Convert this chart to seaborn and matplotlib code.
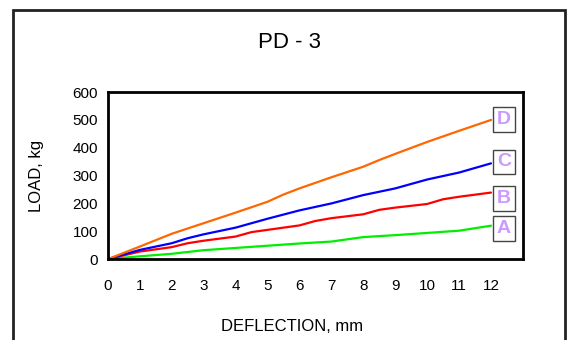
import pandas as pd
import seaborn as sns
import matplotlib.pyplot as plt
from matplotlib.patches import Rectangle

# deflection (mm) / load (kg)
defl_a = [0, 1, 2, 3, 4, 5, 6, 7, 8, 9, 10, 11, 12]
load_a = [0, 10, 19, 32, 40, 48, 56, 63, 79, 86, 94, 102, 120]

defl_b = [0, 1, 2, 2.5, 3, 4, 4.5, 5, 6, 6.5, 7, 8, 8.5, 9, 10, 10.5, 11, 12]
load_b = [0, 27, 43, 57, 66, 81, 97, 105, 121, 137, 147, 161, 177, 185, 198, 215, 224, 239]

defl_c = [0, 1, 2, 2.5, 3, 4, 5, 6, 7, 8, 9, 10, 11, 12]
load_c = [0, 33, 57, 75, 89, 113, 145, 175, 200, 230, 254, 286, 311, 344]

defl_d = [0, 1, 2, 3, 4, 5, 5.5, 6, 7, 8, 8.5, 9, 10, 11, 12]
load_d = [0, 45, 91, 129, 167, 206, 232, 254, 294, 332, 356, 378, 421, 461, 500]

series = ["A", "B", "C", "D"]
colors = {"A": "#00ee00", "B": "#ff0000", "C": "#0000ff", "D": "#ff6600"}

frames = []
for name, x, y in zip(series, [defl_a, defl_b, defl_c, defl_d],
                      [load_a, load_b, load_c, load_d]):
    frames.append(pd.DataFrame({"defl": x, "load": y, "curve": name}))
df = pd.concat(frames)

sns.set_style("white")
plt.rcParams["font.family"] = ["Liberation Sans", "DejaVu Sans"]
plt.rcParams["text.color"] = "black"
plt.rcParams["axes.labelcolor"] = "black"
plt.rcParams["xtick.color"] = "black"
plt.rcParams["ytick.color"] = "black"

fig = plt.figure(figsize=(5.74, 3.4), dpi=100)
ax = fig.add_axes([0.188, 0.238, 0.723, 0.491])

sns.lineplot(data=df, x="defl", y="load", hue="curve", palette=colors,
             linewidth=1.6, legend=False, ax=ax, sort=False)

ax.set_xlim(0, 13)
ax.set_ylim(0, 600)
ax.set_xticks(range(0, 14))
ax.set_xticklabels([str(i) for i in range(13)] + [""])
ax.set_yticks(range(0, 601, 100))
ax.tick_params(direction="inout", length=8, width=2, labelsize=11)
ax.tick_params(axis="x", pad=10)
ax.tick_params(axis="y", pad=3)
for s in ax.spines.values():
    s.set_linewidth(2)
    s.set_color("black")

ax.set_xlabel("DEFLECTION, mm", fontsize=12)
ax.set_ylabel("LOAD, kg", fontsize=12)
ax.xaxis.set_label_coords(0.443, -0.36)
ax.yaxis.set_label_coords(-0.154, 0.5)

# curve labels at the line ends
label_y = {"A": 111, "B": 219, "C": 349, "D": 503}
for name in series:
    ax.text(12.4, label_y[name], name, fontsize=14, fontweight="bold",
            color="#cc99ff", ha="center", va="center",
            bbox=dict(boxstyle="square,pad=0.2", fc="white", ec="#444444", lw=1))

fig.text(0.505, 0.875, "PD - 3", fontsize=16, ha="center", va="center")

fig.patches.append(Rectangle((13 / 574, -0.1), 552 / 574, 330 / 340 + 0.1,
                             transform=fig.transFigure, fill=False,
                             ec="#222222", lw=2))

fig.savefig("out.png", dpi=100)
